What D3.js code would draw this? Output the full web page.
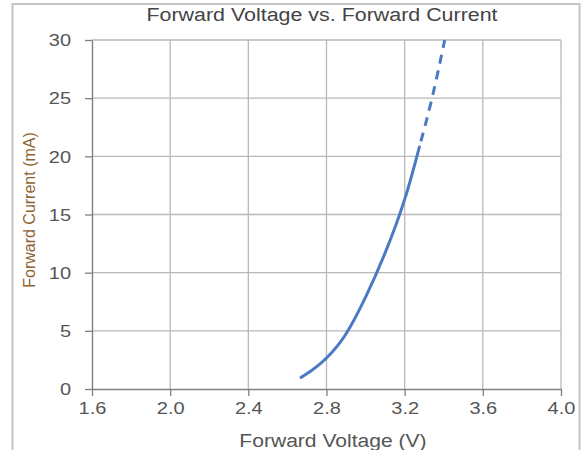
<!DOCTYPE html>
<html><head><meta charset="utf-8">
<script src="https://cdn.jsdelivr.net/npm/d3@7"></script>
<style>body{margin:0;background:#fff;}svg{display:block;}</style>
</head><body>
<svg id="c" width="584" height="450"></svg>
<script>
const xTicks = [1.6, 2.0, 2.4, 2.8, 3.2, 3.6, 4.0];
const yTicks = [0, 5, 10, 15, 20, 25, 30];
const solidV = [2.67, 2.72, 2.77, 2.82, 2.87, 2.92, 3.00, 3.10, 3.20, 3.275];
const solidI = [1.0, 1.55, 2.2, 3.0, 4.0, 5.3, 7.9, 11.7, 16.3, 20.8];
const dashV = [3.275, 3.34, 3.405];
const dashI = [20.8, 25.0, 30.0];
const title = "Forward Voltage vs. Forward Current";
const xLabel = "Forward Voltage (V)";
const yLabel = "Forward Current (mA)";

const svg = d3.select("#c");
const font = "'Liberation Sans', Arial, sans-serif";
const m = {l: 92, r: 561, t: 40, b: 389};
const x = d3.scaleLinear().domain([1.6, 4.0]).range([m.l, m.r]);
const y = d3.scaleLinear().domain([0, 30]).range([m.b, m.t]);

function stretch(sel, f) {
  sel.each(function() {
    const w = this.getComputedTextLength();
    d3.select(this).attr("textLength", w * f).attr("lengthAdjust", "spacingAndGlyphs");
  });
}

// outer frame
svg.append("rect").attr("x", 12.5).attr("y", 4).attr("width", 567).attr("height", 460)
  .attr("fill", "none").attr("stroke", "#c4c4c4").attr("stroke-width", 2);

// grid
svg.append("g").selectAll("line").data(xTicks.slice(1)).join("line")
  .attr("x1", d => x(d)).attr("x2", d => x(d)).attr("y1", m.t).attr("y2", m.b)
  .attr("stroke", "#b8b8b8").attr("stroke-width", 1.3);
svg.append("g").selectAll("line").data(yTicks.slice(1)).join("line")
  .attr("x1", m.l).attr("x2", m.r).attr("y1", d => y(d)).attr("y2", d => y(d))
  .attr("stroke", "#b8b8b8").attr("stroke-width", 1.3);

// axes
const xAxis = svg.append("g").attr("transform", `translate(0,${m.b})`)
  .call(d3.axisBottom(x).tickValues(xTicks).tickFormat(d3.format(".1f")).tickSize(7).tickSizeOuter(0));
const yAxis = svg.append("g").attr("transform", `translate(${m.l},0)`)
  .call(d3.axisLeft(y).tickValues(yTicks).tickSize(7).tickSizeOuter(0));
[xAxis, yAxis].forEach(a => {
  a.select(".domain").attr("stroke", "#808080").attr("stroke-width", 1.4);
  a.selectAll(".tick line").attr("stroke", "#808080").attr("stroke-width", 1.3);
  a.selectAll("text").attr("fill", "#555").attr("font-family", font).attr("font-size", 16);
});
xAxis.selectAll("text").attr("y", 14).attr("dy", "0.71em");
yAxis.selectAll("text").attr("x", -21).attr("dy", "0.36em");
stretch(xAxis.selectAll("text"), 1.25);
stretch(yAxis.selectAll("text"), 1.25);

// curve
const solidLine = d3.line().x(d => x(d[0])).y(d => y(d[1])).curve(d3.curveNatural);
const dashLine = d3.line().x(d => x(d[0])).y(d => y(d[1])).curve(d3.curveNatural);
svg.append("path").datum(solidV.map((v, i) => [v, solidI[i]]))
  .attr("d", solidLine).attr("fill", "none").attr("stroke", "#4a7bc2").attr("stroke-width", 3)
  .attr("stroke-linecap", "round");
svg.append("path").datum(dashV.map((v, i) => [v, dashI[i]]))
  .attr("d", dashLine).attr("fill", "none").attr("stroke", "#4a7bc2").attr("stroke-width", 3)
  .attr("stroke-dasharray", "9,7").attr("stroke-dashoffset", -6);

// text
const t = svg.append("text").attr("x", 322).attr("y", 21).attr("text-anchor", "middle")
  .attr("font-family", font).attr("font-size", 18).attr("fill", "#444").text(title);
stretch(t, 1.19);
const xl = svg.append("text").attr("x", 333).attr("y", 447).attr("text-anchor", "middle")
  .attr("font-family", font).attr("font-size", 18).attr("fill", "#555").text(xLabel);
stretch(xl, 1.17);
svg.append("text").attr("transform", `translate(35,${210}) rotate(-90)`)
  .attr("text-anchor", "middle").attr("font-family", font).attr("font-size", 16)
  .attr("fill", "#8f6233").text(yLabel);
</script>
</body></html>
